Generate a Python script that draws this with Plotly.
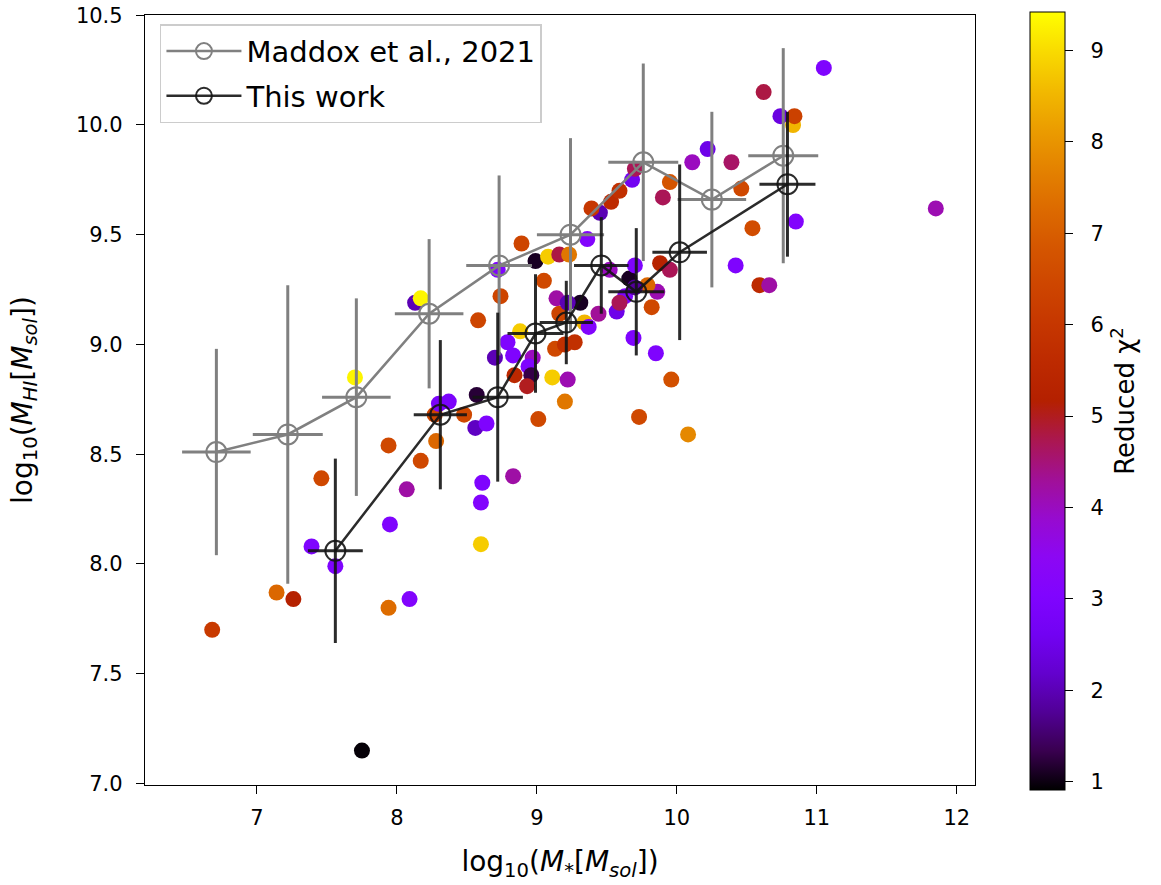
import numpy as np
import plotly.graph_objects as go

# ---- individual galaxies: log10 M*, log10 MHI, reduced chi^2 ----
gal_logmstar = [6.68, 7.14, 7.26, 7.39, 7.56, 7.75, 7.94, 8.09, 8.60, 7.95,
                7.46, 7.94, 8.07, 8.17, 8.28, 8.27, 8.48, 8.30, 8.37, 8.56,
                8.64, 8.61, 8.60, 8.83, 8.57, 8.13, 8.17, 7.70, 8.58, 8.74,
                8.89, 8.72, 8.99, 9.08, 9.16, 9.23, 9.05, 9.14, 8.79, 8.70,
                8.83, 8.97, 8.94, 8.84, 8.96, 8.93, 8.88, 9.13, 9.20, 9.27,
                9.11, 9.22, 9.20, 9.01, 9.34, 9.37, 9.31, 9.16, 9.44, 9.22,
                9.57, 9.63, 9.59, 9.86, 9.82, 9.79, 9.66, 9.70, 9.70, 9.52,
                9.88, 9.95, 9.36, 9.45, 9.39, 9.53, 9.59, 9.90, 9.95, 9.68,
                9.70, 10.11, 10.22, 10.39, 10.46, 10.54, 10.85, 10.62, 10.74, 10.83,
                10.84, 11.05, 11.85, 10.42, 10.59, 10.66, 9.69, 9.85, 9.96, 9.73,
                10.08]
gal_logmhi = [7.70, 7.87, 7.84, 8.08, 7.99, 7.15, 7.80, 7.84, 8.09, 8.18,
              8.39, 8.54, 8.34, 8.47, 8.56, 8.68, 8.68, 8.73, 8.74, 8.62,
              8.64, 8.37, 8.28, 8.40, 8.77, 9.19, 9.21, 8.85, 9.11, 9.22,
              9.46, 9.34, 9.38, 9.40, 9.41, 9.41, 9.29, 9.21, 9.01, 8.94,
              8.95, 8.94, 8.90, 8.86, 8.86, 8.81, 9.06, 8.98, 9.00, 9.01,
              8.85, 8.84, 8.74, 8.66, 9.10, 9.08, 9.19, 9.14, 9.14, 9.19,
              9.15, 9.22, 9.19, 9.24, 9.17, 9.27, 9.30, 9.26, 9.36, 9.34,
              9.37, 9.34, 9.48, 9.60, 9.62, 9.65, 9.70, 9.67, 9.74, 9.75,
              9.80, 9.83, 9.89, 9.83, 9.71, 9.53, 9.56, 10.15, 10.04, 10.00,
              10.04, 10.26, 9.62, 9.36, 9.27, 9.27, 9.03, 8.96, 8.84, 8.67,
              8.59]
gal_chi2 = [6.1, 7.2, 5.2, 3.0, 3.0, 0.95, 7.3, 3.1, 8.8, 3.0,
            6.5, 6.5, 4.2, 6.5, 7.2, 6.4, 6.5, 2.9, 2.9, 2.1,
            3.0, 3.0, 3.1, 4.2, 1.2, 2.0, 9.3, 9.3, 6.4, 6.4,
            6.4, 3.0, 1.1, 8.8, 4.8, 7.5, 6.5, 4.2, 3.0, 2.0,
            3.0, 4.0, 3.0, 5.5, 1.3, 5.0, 8.8, 6.5, 5.8, 5.8,
            8.8, 4.1, 7.5, 6.5, 8.5, 3.1, 1.1, 6.4, 4.3, 2.0,
            2.5, 3.0, 4.7, 4.1, 6.5, 7.2, 1.1, 1.8, 3.0, 4.0,
            5.3, 4.7, 3.1, 2.0, 6.0, 5.6, 5.8, 4.7, 6.8, 2.6,
            4.7, 4.0, 2.5, 4.6, 6.5, 6.6, 3.1, 4.8, 2.4, 8.5,
            6.3, 3.0, 4.1, 3.0, 5.6, 4.2, 3.0, 3.0, 6.7, 6.5,
            7.8]

# ---- Maddox et al. 2021 binned relation ----
mad_x = [6.71, 7.22, 7.71, 8.23, 8.73, 9.24, 9.76, 10.25, 10.76]
mad_y = [8.51, 8.59, 8.76, 9.14, 9.36, 9.50, 9.83, 9.66, 9.86]
mad_xerr = [0.245, 0.25, 0.245, 0.245, 0.235, 0.24, 0.25, 0.245, 0.25]
mad_yerr = [0.47, 0.68, 0.45, 0.34, 0.41, 0.44, 0.45, 0.40, 0.49]

# ---- This work binned relation ----
tw_x = [7.56, 8.31, 8.72, 8.99, 9.21, 9.46, 9.71, 10.02, 10.79]
tw_y = [8.06, 8.68, 8.76, 9.05, 9.10, 9.36, 9.24, 9.42, 9.73]
tw_xerr = [0.196, 0.19, 0.18, 0.2, 0.19, 0.195, 0.2, 0.195, 0.2]
tw_yerr = [0.42, 0.34, 0.385, 0.27, 0.19, 0.22, 0.29, 0.40, 0.33]

cbar_ticks = [1, 2, 3, 4, 5, 6, 7, 8, 9]

# gnuplot colormap (matplotlib 'gnuplot')
def gnuplot_cs(n=21):
    cs = []
    for i in range(n):
        t = i / (n - 1)
        r = np.sqrt(t)
        g = t ** 3
        b = max(np.sin(2 * np.pi * t), 0.0)
        cs.append([t, f"rgb({int(round(r*255))},{int(round(g*255))},{int(round(b*255))})"])
    return cs

FONT = "DejaVu Sans"
TW_COL = "rgba(20,20,20,0.9)"
fig = go.Figure()

fig.add_trace(go.Scatter(
    x=gal_logmstar, y=gal_logmhi, mode="markers", showlegend=False,
    marker=dict(size=16, color=gal_chi2, colorscale=gnuplot_cs(), cmin=0.91, cmax=9.42,
                line=dict(width=0),
                colorbar=dict(
                    title=dict(text="Reduced χ<sup>2</sup>", side="right",
                               font=dict(family=FONT, size=26, color="black")),
                    x=1.066, xanchor="left", xref="paper", xpad=0, ypad=0,
                    y=0.4987, yanchor="middle",
                    lenmode="pixels", len=778, thicknessmode="pixels", thickness=35,
                    outlinecolor="black", outlinewidth=1,
                    tickvals=cbar_ticks,
                    ticktext=["\u00a0\u00a0" + str(t) for t in cbar_ticks],
                    ticks="outside", ticklen=8, tickcolor="black",
                    tickfont=dict(family=FONT, size=21, color="black"))),
))

fig.add_trace(go.Scatter(
    x=mad_x, y=mad_y, mode="lines+markers", name="Maddox et al., 2021",
    legendgroup="mad",
    line=dict(color="#808080", width=2.5),
    marker=dict(symbol="circle-open", size=20, color="#808080", line=dict(width=2)),
    error_x=dict(type="data", array=mad_xerr, color="#808080", thickness=3, width=0),
    error_y=dict(type="data", array=mad_yerr, color="#808080", thickness=3, width=0),
))

fig.add_trace(go.Scatter(
    x=tw_x, y=tw_y, mode="lines+markers", name="This work",
    legendgroup="tw",
    line=dict(color=TW_COL, width=2.5),
    marker=dict(symbol="circle-open", size=20, color=TW_COL, line=dict(width=2)),
    error_x=dict(type="data", array=tw_xerr, color=TW_COL, thickness=3, width=0),
    error_y=dict(type="data", array=tw_yerr, color=TW_COL, thickness=3, width=0),
))

axis_common = dict(showline=True, linecolor="black", linewidth=1.3, mirror=True,
                   ticks="outside", ticklen=8, tickcolor="black", showgrid=False,
                   zeroline=False, tickfont=dict(family=FONT, size=21, color="black"))

fig.update_layout(
    width=1161, height=885,
    margin=dict(l=145, r=186, t=15, b=100, autoexpand=False),
    plot_bgcolor="white", paper_bgcolor="white",
    font=dict(family=FONT, color="black"),
    xaxis=dict(range=[6.2, 12.13], tickvals=[7, 8, 9, 10, 11, 12],
               ticklabelstandoff=6,
               title=dict(text="log<sub>10</sub>(<i>M</i><sub>*</sub>[<i>M<sub>sol</sub></i>])",
                          font=dict(family=FONT, size=28), standoff=22),
               **axis_common),
    yaxis=dict(range=[6.993, 10.501], tickvals=[7.0, 7.5, 8.0, 8.5, 9.0, 9.5, 10.0, 10.5],
               tickformat=".1f", ticklabelstandoff=9,
               title=dict(text="log<sub>10</sub>(<i>M<sub>HI</sub></i>[<i>M<sub>sol</sub></i>])",
                          font=dict(family=FONT, size=28), standoff=35),
               **axis_common),
    legend=dict(x=0.018, y=0.988, xanchor="left", yanchor="top",
                bgcolor="rgba(255,255,255,0.85)", bordercolor="#cccccc", borderwidth=1.5,
                font=dict(family=FONT, size=29, color="black"),
                itemwidth=75, tracegroupgap=4),
)

fig.write_html("out.html")
